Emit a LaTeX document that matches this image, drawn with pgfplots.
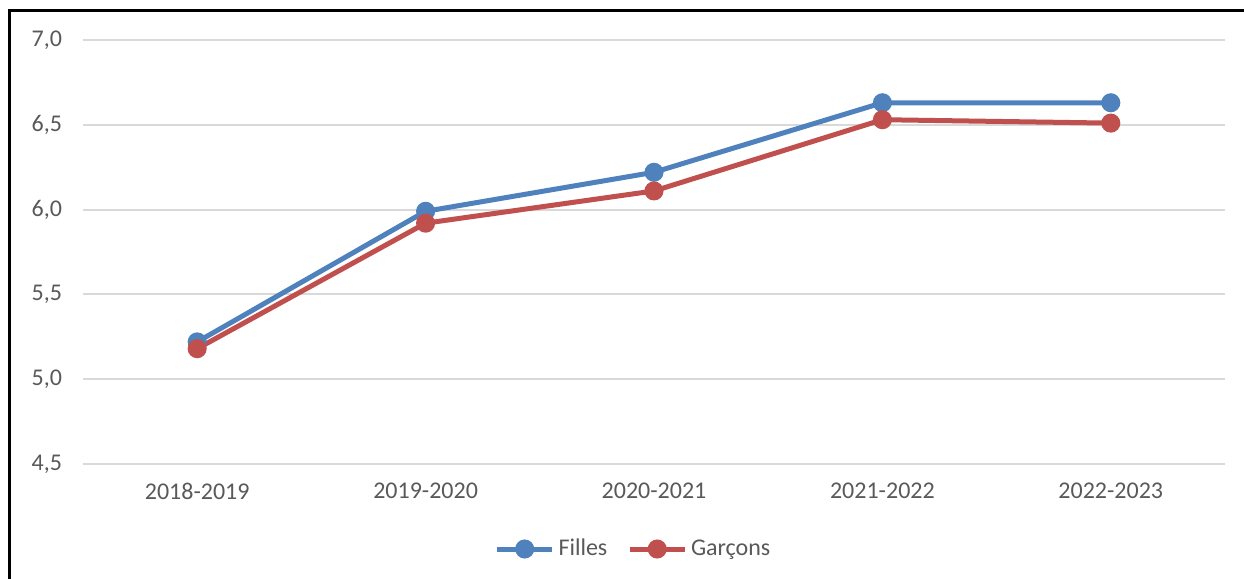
\documentclass[border=0pt]{standalone}
\usepackage{pgfplots}
\pgfplotsset{compat=1.18}
\usepackage{fontspec}
\setmainfont{Carlito}
\definecolor{cblue}{HTML}{4F81BD}
\definecolor{cred}{HTML}{C0504D}
\definecolor{cgrid}{HTML}{D9D9D9}
\definecolor{ctext}{HTML}{595959}
\begin{document}
\begin{tikzpicture}
\begin{axis}[
  scale only axis,
  width=571pt, height=212pt,
  at={(0,0)}, anchor=south west,
  xmin=-0.5, xmax=4.5,
  ymin=4.5, ymax=7.0,
  xtick={0,1,2,3,4},
  xticklabels={2018-2019,2019-2020,2020-2021,2021-2022,2022-2023},
  ytick={4.5,5.0,5.5,6.0,6.5,7.0},
  /pgf/number format/use comma,
  /pgf/number format/fixed,
  /pgf/number format/fixed zerofill,
  /pgf/number format/precision=1,
  /pgf/number format/assume math mode=true,
  ymajorgrids, grid style={cgrid, line width=1pt},
  axis line style={draw=none},
  major tick style={draw=none},
  tick label style={font=\fontsize{12pt}{14pt}\selectfont, text=ctext},
  xticklabel style={yshift=-6pt},
  yticklabel style={xshift=-7pt},
  legend style={draw=none, fill=none, at={(axis description cs:0.483,0)}, anchor=center, yshift=-42.5pt, legend columns=-1, font=\fontsize{12pt}{14pt}\selectfont, text=ctext, /tikz/every even column/.append style={column sep=8pt}},
  legend image code/.code={\draw[#1, mark repeat=2, mark phase=2] plot coordinates {(0cm,0cm) (0.48cm,0cm) (0.96cm,0cm)};},
  clip=false,
]
\addplot[cblue, line width=2.5pt, mark=*, mark size=3.5pt, mark options={solid}] coordinates {(0,5.22) (1,5.99) (2,6.22) (3,6.63) (4,6.63)};
\addlegendentry{Filles}
\addplot[cred, line width=2.5pt, mark=*, mark size=3.5pt, mark options={solid}] coordinates {(0,5.18) (1,5.92) (2,6.11) (3,6.53) (4,6.51)};
\addlegendentry{Garçons}
\end{axis}
\draw[black, line width=1.5pt] (-36.75pt,-60pt) -- (-36.75pt,226.5pt) -- (585pt,226.5pt);
\pgfresetboundingbox
\useasboundingbox (-41.5pt,-57.5pt) rectangle (580.5pt,232pt);
\end{tikzpicture}
\end{document}
